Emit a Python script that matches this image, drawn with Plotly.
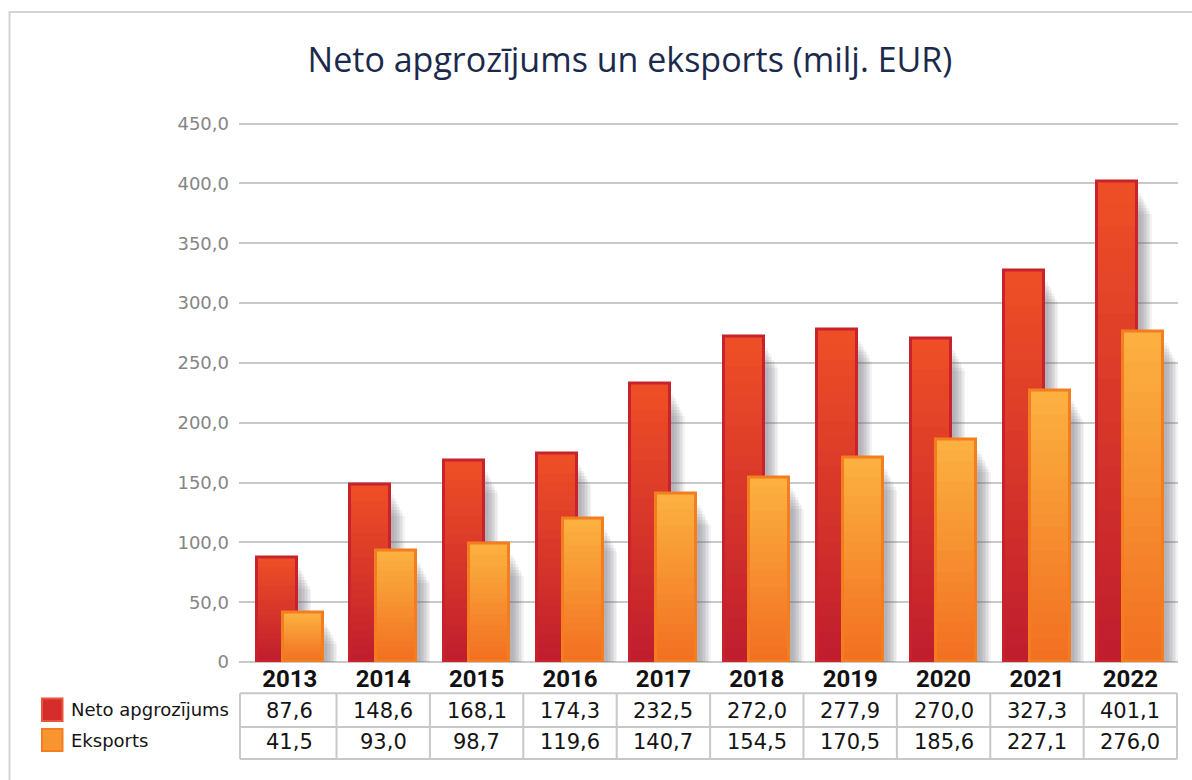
import plotly.graph_objects as go

# ---------------- data ----------------
years = ["2013", "2014", "2015", "2016", "2017", "2018", "2019", "2020", "2021", "2022"]
neto = [87.6, 148.6, 168.1, 174.3, 232.5, 272.0, 277.9, 270.0, 327.3, 401.1]
eksports = [41.5, 93.0, 98.7, 119.6, 140.7, 154.5, 170.5, 185.6, 227.1, 276.0]
series_names = ["Neto apgrozījums", "Eksports"]
y_ticks = [0, 50, 100, 150, 200, 250, 300, 350, 400, 450]
y_tick_labels = ["0", "50,0", "100,0", "150,0", "200,0", "250,0", "300,0", "350,0", "400,0", "450,0"]
title_text = "Neto apgrozījums un eksports (milj. EUR)"

# ---------------- geometry / style ----------------
W, H = 1192, 780
FONT = "DejaVu Sans"
TITLE_FONT = "Open Sans"
YEAR_FONT = "Roboto"
PX = 93.4                 # px per category
YR = [0, 455]
X_RANGE = [-0.544, 9.51]


def vy(p):
    """screen px (as seen) -> layout px (compensates observed vertical squeeze)"""
    return (p - 5) / 0.98


def py(p):
    return 1 - vy(p) / H


Y_TOP_PX, Y_BOT_PX = vy(117.5), vy(661.5)
PY = (Y_BOT_PX - Y_TOP_PX) / (YR[1] - YR[0])   # px per unit


def fmt(v):
    return f"{v:.1f}".replace(".", ",")


def mix(c1, c2, t):
    return "rgb(%d,%d,%d)" % tuple(round(a + (b - a) * t) for a, b in zip(c1, c2))


xs = list(range(len(years)))
bar_w = 40 / PX
styles = [
    dict(vals=neto, off=-33 / PX, top=(238, 78, 38), bot=(192, 30, 46), line="#c8232d"),
    dict(vals=eksports, off=-7.3 / PX, top=(251, 176, 64), bot=(242, 112, 34), line="#f47d20"),
]

fig = go.Figure()
N = 22
# (right extension px, top drop px) for soft shadow layers
shadow_layers = [(13, 32), (11.5, 29), (10, 26), (8.5, 23), (7, 20), (5.5, 17), (4, 14), (2.5, 11)]
for st in styles:
    vals = st["vals"]
    for ext, drop in shadow_layers:
        fig.add_trace(go.Bar(
            x=xs, y=[v - drop / PY for v in vals],
            offset=st["off"] + 6 / PX, width=bar_w - 6 / PX + (ext + 1.5) / PX,
            marker=dict(color="rgba(100,104,114,0.08)", line=dict(width=0)),
            hoverinfo="skip", showlegend=False))
    for k in range(N):
        f = (N - k) / N
        fig.add_trace(go.Bar(
            x=xs, y=[v * f for v in vals], offset=st["off"], width=bar_w,
            marker=dict(color=mix(st["top"], st["bot"], k / (N - 1)), line=dict(width=0)),
            hoverinfo="skip", showlegend=False))
    fig.add_trace(go.Bar(
        x=xs, y=vals, offset=st["off"], width=bar_w,
        marker=dict(color="rgba(0,0,0,0)", line=dict(color=st["line"], width=3)),
        hoverinfo="skip", showlegend=False))

shapes = []
annotations = []

# outer frame
shapes.append(dict(type="rect", xref="paper", yref="paper", x0=9.5 / W, x1=1.05,
                   y0=-0.05, y1=py(12), line=dict(color="#d4d4d4", width=2), layer="below"))

# data table
tcol = "#c8c8c8"
t_left, t_right = X_RANGE[0] + 0.01, X_RANGE[1] - 0.01
for yy in (692.7, 726.5, 758.3):
    shapes.append(dict(type="line", xref="x", yref="paper", x0=t_left, x1=t_right,
                       y0=py(yy), y1=py(yy), line=dict(color=tcol, width=2)))
vlines = [t_left] + [k - 0.5 for k in range(1, len(years))] + [t_right]
for xv in vlines:
    shapes.append(dict(type="line", xref="x", yref="paper", x0=xv, x1=xv,
                       y0=py(692.7), y1=py(758.3), line=dict(color=tcol, width=2)))
for row_y, vals in ((710, neto), (741.5, eksports)):
    for i, v in enumerate(vals):
        annotations.append(dict(x=i, y=py(row_y), xref="x", yref="paper", text=fmt(v),
                                showarrow=False, xanchor="center", yanchor="middle",
                                font=dict(family=FONT, size=21, color="#141414")))

# legend keys
legend_rows = [
    (series_names[0], 698, 720.5, "#d42d2b", "#e8553c"),
    (series_names[1], 728.5, 750.5, "#f7962f", "#f47d20"),
]
for name, y0, y1, fill, edge in legend_rows:
    shapes.append(dict(type="rect", xref="paper", yref="paper", x0=42 / W, x1=62.5 / W,
                       y0=py(y1), y1=py(y0), fillcolor=fill, line=dict(color=edge, width=2)))
    annotations.append(dict(x=69 / W, y=py((y0 + y1) / 2), xref="paper", yref="paper",
                            text=name, showarrow=False, xanchor="left", yanchor="middle",
                            font=dict(family=FONT, size=18, color="#141414")))

fig.update_layout(
    width=W, height=H,
    margin=dict(l=0, r=0, t=0, b=0),
    paper_bgcolor="white", plot_bgcolor="white",
    barmode="overlay", bargap=0,
    font=dict(family=FONT),
    showlegend=False,
    title=dict(text=title_text, x=630 / W, y=py(64), xref="paper", yref="container",
               xanchor="center", yanchor="middle",
               font=dict(family=TITLE_FONT, size=34, color="#1b2a4c")),
    xaxis=dict(domain=[239 / W, 1178 / W], range=X_RANGE, tickmode="array", tickvals=xs,
               ticktext=years, showgrid=False, zeroline=False, showline=False, ticks="",
               tickfont=dict(family=YEAR_FONT, size=24, color="#111111", weight="bold"),
               fixedrange=True),
    yaxis=dict(domain=[(H - Y_BOT_PX) / H, (H - Y_TOP_PX) / H], range=YR, tickmode="array",
               tickvals=y_ticks, ticktext=y_tick_labels, showgrid=True, gridcolor="#c9c9c9",
               gridwidth=1.5, zeroline=True, zerolinecolor="#c9c9c9", zerolinewidth=1.5,
               showline=False, ticks="", ticklabelstandoff=9,
               tickfont=dict(family=FONT, size=18, color="#858585"), fixedrange=True),
    shapes=shapes,
    annotations=annotations,
)

fig.write_html(
    "out.html",
    config={"displayModeBar": False},
    post_script=("document.body.style.margin='0';"
                 "document.body.style.overflow='hidden';"
                 "document.documentElement.style.overflow='hidden';"),
)
